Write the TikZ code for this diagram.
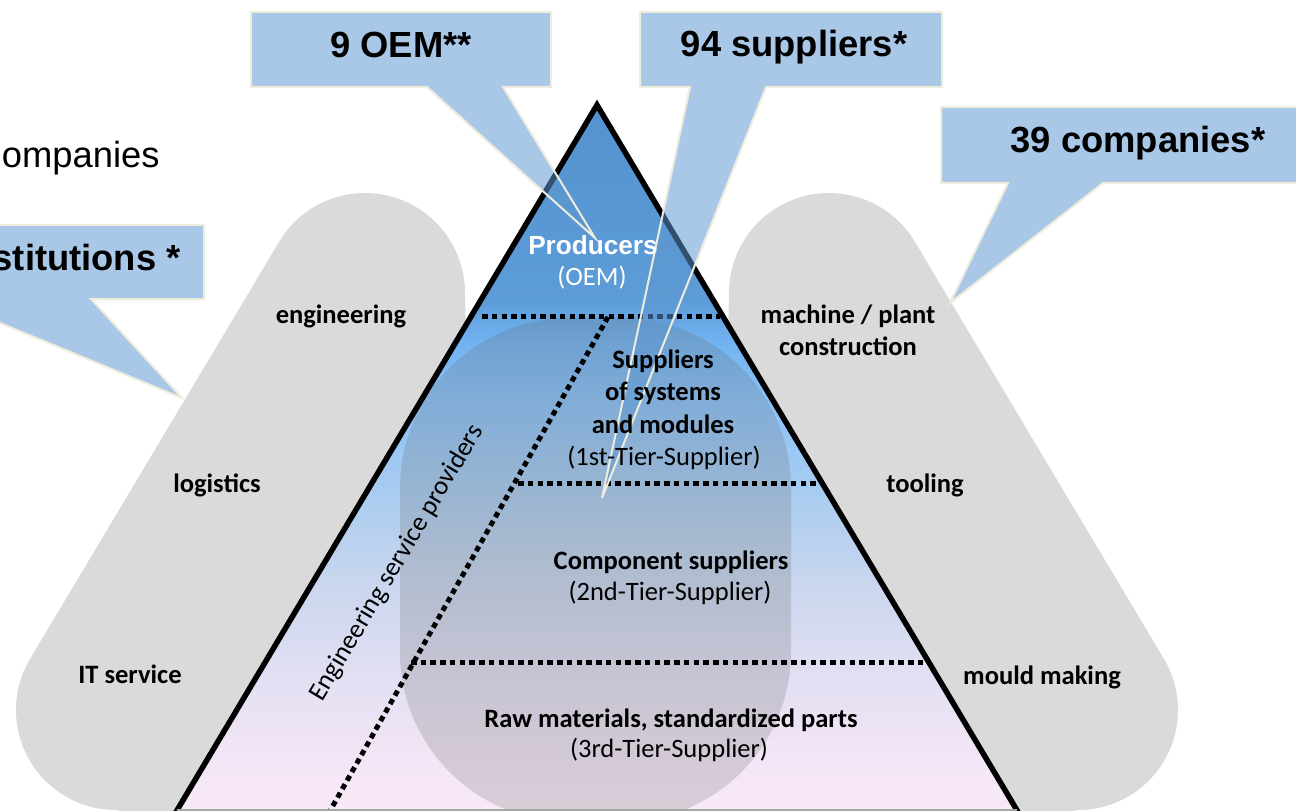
\documentclass[tikz,border=0pt]{standalone}
\usepackage{fontspec}
\newfontfamily\arialf{Liberation Sans}
\newfontfamily\calf{Carlito}
\definecolor{blobgrey}{RGB}{218,218,218}
\definecolor{callfill}{RGB}{94,151,208}
\definecolor{callline}{RGB}{238,236,220}
\definecolor{p0}{RGB}{250,234,248}
\definecolor{p1}{RGB}{240,228,245}
\definecolor{p2}{RGB}{222,222,242}
\definecolor{p3}{RGB}{200,214,238}
\definecolor{p4}{RGB}{172,205,240}
\definecolor{p5}{RGB}{138,194,248}
\definecolor{p6}{RGB}{112,178,240}
\definecolor{p7}{RGB}{92,156,216}
\definecolor{p8}{RGB}{84,146,208}
\pgfdeclareverticalshading{pyrshade}{100bp}{color(0bp)=(p0); color(25bp)=(p0); color(30bp)=(p1); color(35.7bp)=(p2); color(41.4bp)=(p3); color(47bp)=(p4); color(54.1bp)=(p5); color(58.4bp)=(p6); color(61.2bp)=(p7); color(75bp)=(p8); color(100bp)=(p8)}
\begin{document}
\begin{tikzpicture}[x=0.02cm,y=-0.02cm,
  blob/.style={line width=4cm, line cap=round, color=blobgrey},
  dotline/.style={line width=0.1cm, dash pattern=on 0.11cm off 0.085cm},
  callout/.style={fill=callfill, fill opacity=0.53, draw=callline, line width=0.04cm, line join=miter},
  calltext/.style={font=\arialf\bfseries\fontsize{20.7}{24}\selectfont, anchor=base, inner sep=0pt},
  plaintext/.style={font=\arialf\fontsize{20.7}{24}\selectfont, inner sep=0pt},
  lbl/.style={font=\calf\bfseries\fontsize{15.1}{18}\selectfont, anchor=base, inner sep=0pt},
  sublbl/.style={font=\calf\fontsize{15.1}{18}\selectfont, anchor=base, inner sep=0pt}]
\useasboundingbox (0,0) rectangle (1296,811);
\clip (0,0) rectangle (1296,811);
\fill[white] (0,0) rectangle (1296,811);

% outer grey blobs
\draw[blob] (365,293) -- (116,710);
\fill[blobgrey] (365,293) -- (465,293) -- (466,340) -- (205,815) -- (116,815) -- cycle;
\draw[blob] (829,293) -- (1078,710);
\fill[blobgrey] (829,293) -- (729,293) -- (728,340) -- (989,815) -- (1078,815) -- cycle;

% pyramid
\coordinate (apex) at (597,105);
\coordinate (bl) at (176,812);
\coordinate (br) at (1018,812);
\shade[shading=pyrshade] (apex) -- (br) -- (bl) -- cycle;
\begin{scope}
  \clip (apex) -- (br) -- (bl) -- cycle;
  \fill[black!60, fill opacity=0.22, rounded corners=3.4cm] (400,318) rectangle (791,822);
  \coordinate (d1a) at (482,316); \coordinate (d1b) at (720,316);
  \coordinate (d2a) at (518,483); \coordinate (d2b) at (817,483);
  \coordinate (d3a) at (411,662); \coordinate (d3b) at (926,662);
  \coordinate (dga) at (608,317); \coordinate (dgb) at (326,818);
  \draw[dotline] (d1a) -- (d1b);
  \draw[dotline] (d2a) -- (d2b);
  \draw[dotline] (d3a) -- (d3b);
  \draw[dotline] (dga) -- (dgb);
\end{scope}
\draw[line width=0.11cm, line join=miter, miter limit=10] (bl) -- (apex) -- (br);
\draw[gray!70, line width=0.03cm] (177,810) -- (1017,810);

% callouts
\filldraw[callout] (251,12) -- (551,12) -- (551,87) -- (503,87) -- (595,238) -- (427,87) -- (251,87) -- cycle;
\filldraw[callout] (640,12) -- (942,12) -- (942,87) -- (766,87) -- (602,498) -- (690,87) -- (640,87) -- cycle;
\filldraw[callout] (941,107) -- (1330,107) -- (1330,183) -- (1103,183) -- (950,303) -- (1008,183) -- (941,183) -- cycle;
\filldraw[callout] (-120,225) -- (204,225) -- (204,299) -- (91,299) -- (182,398) -- (-58,299) -- (-120,299) -- cycle;

\node[calltext] (oem) at (401,58) {9 OEM**};
\node[calltext] (sup) at (794,57) {94 suppliers*};
\node[calltext] (comp) at (1138,153) {39 companies*};
\node[calltext, anchor=base east] (inst) at (181,271) {stitutions *};
\node[plaintext, anchor=base east] (compl) at (160,168) {ompanies};

% pyramid labels
\node[font=\arialf\bfseries\fontsize{14.9}{18}\selectfont, text=white, anchor=base, inner sep=0pt] (prod) at (593,255) {Producers};
\node[sublbl, text=white] (oemsub) at (592,285) {(OEM)};
\node[lbl] (s1) at (663,368) {Suppliers};
\node[lbl] (s2) at (663,400) {of systems};
\node[lbl] (s3) at (663,433) {and modules};
\node[sublbl] (s4) at (664,465) {(1st-Tier-Supplier)};
\node[lbl] (c1) at (671,569) {Component suppliers};
\node[sublbl] (c2) at (670,600) {(2nd-Tier-Supplier)};
\node[lbl] (r1) at (671,727) {Raw materials, standardized parts};
\node[sublbl] (r2) at (669,757) {(3rd-Tier-Supplier)};
\node[font=\calf\fontsize{15.1}{18}\selectfont, rotate=59.3, inner sep=0pt] (esp) at (397,563) {Engineering service providers};

% side labels
\node[lbl] (eng) at (341,323) {engineering};
\node[lbl] (log) at (217,492) {logistics};
\node[lbl] (its) at (130,683) {IT service};
\node[lbl] (mach) at (848,323) {machine / plant};
\node[lbl] (cons) at (848,355) {construction};
\node[lbl] (tool) at (925,492) {tooling};
\node[lbl] (mould) at (1042,684) {mould making};
\end{tikzpicture}
\end{document}
